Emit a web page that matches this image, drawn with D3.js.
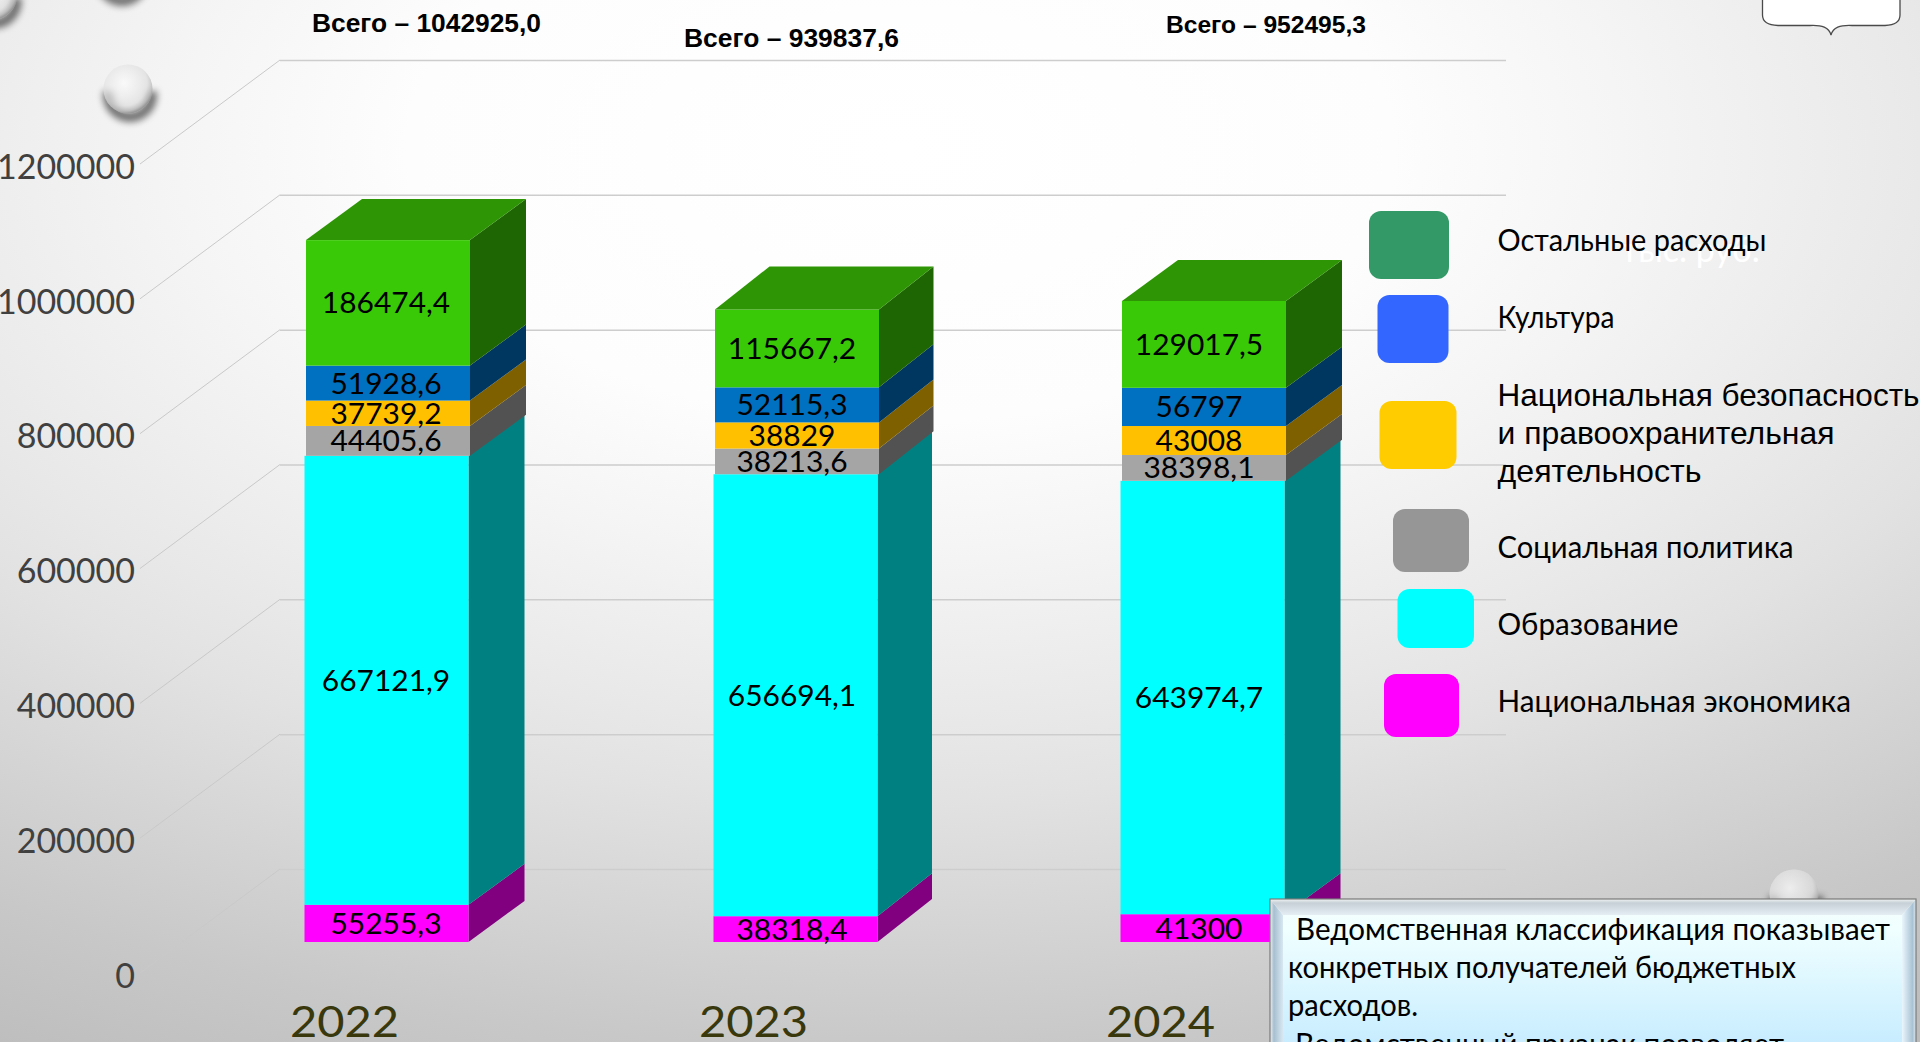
<!DOCTYPE html>
<html lang="ru"><head><meta charset="utf-8">
<script src="https://cdn.jsdelivr.net/npm/d3@7"></script>
<style>html,body{margin:0;padding:0;overflow:hidden;background:#fff}svg{display:block}</style>
</head><body><svg id="c" width="1920" height="1042" viewBox="0 0 1920 1042"></svg>
<script>
const years = ["2022","2023","2024"];
const seriesNames = ["Национальная экономика","Образование","Социальная политика","Национальная безопасность и правоохранительная деятельность","Культура","Остальные расходы"];
const economy = [55255.3,38318.4,41300];
const education = [667121.9,656694.1,643974.7];
const social = [44405.6,38213.6,38398.1];
const security = [37739.2,38829,43008];
const culture = [51928.6,52115.3,56797];
const other = [186474.4,115667.2,129017.5];
const totals = [1042925.0,939837.6,952495.3];
const tickValues = [0,200000,400000,600000,800000,1000000,1200000];
const frontColors = ["#ff00ff","#00ffff","#a5a5a5","#ffc000","#0070c0","#39c907"];
const sideColors = ["#800080","#008080","#525252","#7f6000","#003760","#1e6503"];
const topColor = "#2e9605";
const legendColors = ["#ff00ff","#00ffff","#969696","#ffcc00","#3366ff","#339966"];

const svg = d3.select("#c"), defs = svg.append("defs");
const NARROW = "Lato, 'Open Sans', sans-serif", ARIAL = "'Liberation Sans', Arial, sans-serif";

// background
const bg = defs.append("radialGradient").attr("id","bg").attr("gradientUnits","userSpaceOnUse")
  .attr("cx",0).attr("cy",0).attr("r",1900)
  .attr("gradientTransform","translate(900,150) scale(1,0.55)");
[[0,"#ffffff"],[.26,"#fdfdfd"],[.38,"#f5f5f5"],[.55,"#e8e8e8"],[.62,"#e2e2e2"],[.86,"#c8c8c8"],[1,"#bcbcbc"]]
  .forEach(s=>bg.append("stop").attr("offset",s[0]).attr("stop-color",s[1]));
svg.append("rect").attr("width",1920).attr("height",1042).attr("fill","url(#bg)");

// droplets
const drop = defs.append("radialGradient").attr("id","drop").attr("cx",.42).attr("cy",.38).attr("r",.62);
[[0,"#ffffff",.55],[.3,"#f0f0f0",.5],[.75,"#d8d8d8",.55],[.92,"#b4b4b4",.7],[1,"#8f8f8f",.75]]
  .forEach(s=>drop.append("stop").attr("offset",s[0]).attr("stop-color",s[1]).attr("stop-opacity",s[2]));
defs.append("filter").attr("id","blur").attr("x","-40%").attr("y","-40%").attr("width","180%").attr("height","180%")
  .append("feGaussianBlur").attr("stdDeviation",3.5);
[[128,89],[-7.5,-4.5],[120,-27],[1794,894]].forEach(([cx,cy])=>{
  const g=svg.append("g");
  g.append("path").attr("d",d3.arc()({innerRadius:17,outerRadius:27,startAngle:Math.PI*0.45,endAngle:Math.PI*1.55}))
    .attr("transform",`translate(${cx+2},${cy+6})`).attr("fill","#000").attr("opacity",.55).attr("filter","url(#blur)");
  g.append("circle").attr("cx",cx).attr("cy",cy).attr("r",24.5).attr("fill","#f4f4f4").attr("opacity",.35);
  g.append("circle").attr("cx",cx).attr("cy",cy).attr("r",24.5).attr("fill","url(#drop)");
});

// scales
const y = d3.scaleLinear().domain([0,1200000]).range([973,164]);
const yBar = d3.scaleLinear().domain([0,1200000]).range([942,942-0.000673*1200000]);
const x = d3.scaleBand().domain(years).range([306,1286]).paddingInner(244/408).paddingOuter(0);
const nudge = {"2022":0,"2023":1,"2024":0};
const barX = yr => x(yr)+nudge[yr];
const wall = {dx:140, dy:-104, right:1506};

// gridlines on the wall and side-wall diagonals
const grid = svg.append("g").attr("fill","none");
grid.selectAll("line.h").data(tickValues).join("line").attr("class","h")
  .attr("x1",140+wall.dx).attr("x2",wall.right).attr("y1",d=>y(d)+wall.dy+.5).attr("y2",d=>y(d)+wall.dy+.5)
  .attr("stroke","#cdcdcd").attr("stroke-width",1.5);
grid.selectAll("line.d").data(tickValues).join("line").attr("class","d")
  .attr("x1",140).attr("x2",140+wall.dx).attr("y1",d=>y(d)).attr("y2",d=>y(d)+wall.dy)
  .attr("stroke","#c9c9c9").attr("stroke-width",1);

// axis
const axis = svg.append("g").attr("transform","translate(135,2)")
  .call(d3.axisLeft(y).tickValues(tickValues).tickSize(0).tickPadding(0).tickFormat(d3.format("d")));
axis.select(".domain").remove();
axis.selectAll("text").attr("font-family",NARROW).attr("font-size",34).attr("fill","#404040").attr("dy","0.36em");

// stacked 3D bars
const keys = d3.range(seriesNames.length);
const lists = [economy,education,social,security,culture,other];
const table = years.map((yr,i)=>{const o={year:yr};keys.forEach(k=>o[k]=lists[k][i]);return o;});
const layers = d3.stack().keys(keys)(table);
const depth = yr => yr==="2023" ? [54.5,-43] : [56,-41];
const shift = k => k<2 ? -1.5 : 0;
const labelShift = {"2022":-2,"2023":-5,"2024":-5};
const bars = svg.append("g");
layers.forEach((layer,k)=>{
  const g = bars.append("g");
  g.selectAll("path.side").data(layer).join("path").attr("class","side")
    .attr("d",d=>{
      const yr=d.data.year,[dx,dy]=depth(yr),r=barX(yr)+x.bandwidth()+shift(k),t=yBar(d[1]),b=yBar(d[0]);
      return `M${r},${b}L${r+dx},${b+dy}L${r+dx},${t+dy}L${r},${t}Z`;
    }).attr("fill",sideColors[k]);
  g.selectAll("rect").data(layer).join("rect")
    .attr("x",d=>barX(d.data.year)+shift(k)).attr("width",x.bandwidth())
    .attr("y",d=>yBar(d[1])).attr("height",d=>yBar(d[0])-yBar(d[1]))
    .attr("fill",frontColors[k]);
  if(k===keys.length-1){
    g.selectAll("path.top").data(layer).join("path").attr("class","top")
      .attr("d",d=>{
        const yr=d.data.year,[dx,dy]=depth(yr),l=barX(yr),w=x.bandwidth(),t=yBar(d[1]);
        return `M${l},${t}L${l+dx},${t+dy}L${l+w+dx},${t+dy}L${l+w},${t}Z`;
      }).attr("fill",topColor);
  }
});
// data labels
layers.forEach((layer,k)=>{
  bars.append("g").selectAll("text").data(layer).join("text")
    .attr("text-anchor","middle").attr("font-family",NARROW).attr("font-size",28).attr("fill","#000")
    .attr("transform",d=>`translate(${barX(d.data.year)+x.bandwidth()/2+labelShift[d.data.year]},${(yBar(d[0])+yBar(d[1]))/2+10.5}) scale(1.07,1)`)
    .text(d=>String(d.data[k]).replace(".",","));
});

// year labels
svg.append("g").selectAll("text").data(years).join("text")
  .attr("text-anchor","middle").attr("font-family",NARROW).attr("font-size",42).attr("fill","#38380c")
  .attr("transform",d=>`translate(${barX(d)+38.5},1037) scale(1.12,1)`).text(d=>d);

// totals
const totalSpots = [{x:312,y:32,w:229,s:26},{x:684,y:47,w:215,s:26},{x:1166,y:33,w:200,s:23.5}];
svg.append("g").selectAll("text").data(totals).join("text")
  .attr("x",(d,i)=>totalSpots[i].x).attr("y",(d,i)=>totalSpots[i].y)
  .attr("font-size",(d,i)=>totalSpots[i].s).attr("textLength",(d,i)=>totalSpots[i].w).attr("lengthAdjust","spacingAndGlyphs")
  .attr("font-family",ARIAL).attr("font-weight","bold").attr("fill","#000")
  .text(d=>"Всего – "+d3.format(".1f")(d).replace(".",","));

// faint unit caption behind legend
svg.append("text").attr("x",1621).attr("y",262).attr("font-family",NARROW).attr("font-size",34).attr("fill","#ffffff").text("тыс. руб.");

// legend swatches
const swatches = [[1384,674,75,63],[1397.5,589,76.5,59],[1393,509,76,63],[1379.5,401,77,68],[1377.5,295,71,68],[1369,211,80,68]];
svg.append("g").selectAll("rect").data(legendColors).join("rect")
  .attr("x",(d,i)=>swatches[i][0]).attr("y",(d,i)=>swatches[i][1]).attr("width",(d,i)=>swatches[i][2]).attr("height",(d,i)=>swatches[i][3])
  .attr("rx",12).attr("ry",12).attr("fill",d=>d);
// legend text
const legendSpots = [[1497.5,712,353.5],[1497.5,635,181],[1497.5,558,296],null,[1497.5,328,117],[1497.5,251,269]];
svg.append("g").selectAll("text").data(seriesNames.map((n,i)=>({n,s:legendSpots[i]})).filter(d=>d.s)).join("text")
  .attr("x",d=>d.s[0]).attr("y",d=>d.s[1]).attr("textLength",d=>d.s[2]).attr("lengthAdjust","spacingAndGlyphs")
  .attr("font-family",NARROW).attr("font-size",30).attr("fill","#000").text(d=>d.n);
const secLines = [["Национальная безопасность",406,422],["и правоохранительная",444,337],["деятельность",482,204]];
svg.append("g").selectAll("text").data(secLines).join("text")
  .attr("x",1497.5).attr("y",d=>d[1]).attr("textLength",d=>d[2]).attr("lengthAdjust","spacingAndGlyphs")
  .attr("font-family",ARIAL).attr("font-size",32).attr("fill","#000").text(d=>d[0]);

// brace callout
svg.append("path").attr("d","M1762.5,-2V15Q1762.5,25 1778,25.5H1810C1822,25 1829,27 1831,35C1833,27 1840,25 1852,25.5H1885Q1900,25 1900,15V-2")
  .attr("fill","#ffffff").attr("stroke","#4a4a4a").attr("stroke-width",1.3);

// note box
const boxFill = defs.append("linearGradient").attr("id","boxFill").attr("x1",0).attr("x2",0).attr("y1",0).attr("y2",1);
[[0,"#f5fdfd"],[.2,"#f0ffff"],[1,"#c6ecff"]].forEach(s=>boxFill.append("stop").attr("offset",s[0]).attr("stop-color",s[1]));
const boxTop = defs.append("linearGradient").attr("id","boxTop").attr("x1",0).attr("x2",0).attr("y1",0).attr("y2",1);
[[0,"#f2f4f5"],[.25,"#c6d0d6"],[1,"#e4eef3"]].forEach(s=>boxTop.append("stop").attr("offset",s[0]).attr("stop-color",s[1]));
const boxL = defs.append("linearGradient").attr("id","boxL");
[[0,"#eef2f4"],[.3,"#a6bfd0"],[1,"#d8e8f2"]].forEach(s=>boxL.append("stop").attr("offset",s[0]).attr("stop-color",s[1]));
const boxR = defs.append("linearGradient").attr("id","boxR");
[[0,"#eaf6fc"],[.75,"#a9c3d4"],[1,"#dfe6ea"]].forEach(s=>boxR.append("stop").attr("offset",s[0]).attr("stop-color",s[1]));
const box = svg.append("g");
box.append("rect").attr("x",1270).attr("y",899).attr("width",646).attr("height",150).attr("fill","url(#boxFill)");
box.append("path").attr("d","M1270,899L1283,915V1050H1270Z").attr("fill","url(#boxL)");
box.append("path").attr("d","M1916,899L1902,915V1050H1916Z").attr("fill","url(#boxR)");
box.append("path").attr("d","M1270,899H1916L1902,915H1283Z").attr("fill","url(#boxTop)");
box.append("rect").attr("x",1270).attr("y",899).attr("width",646).attr("height",150).attr("fill","none").attr("stroke","#7a7a7a").attr("stroke-width",1.2);
const noteLines = [["Ведомственная классификация показывает",1296,940,594],["конкретных получателей бюджетных",1288,978,508],["расходов.",1288,1016,130],["Ведомственный признак позволяет",1295,1055,489]];
box.append("g").selectAll("text").data(noteLines).join("text")
  .attr("x",d=>d[1]).attr("y",d=>d[2]).attr("textLength",d=>d[3]).attr("lengthAdjust","spacingAndGlyphs")
  .attr("font-family",NARROW).attr("font-size",30).attr("fill","#000").text(d=>d[0]);
</script></body></html>
